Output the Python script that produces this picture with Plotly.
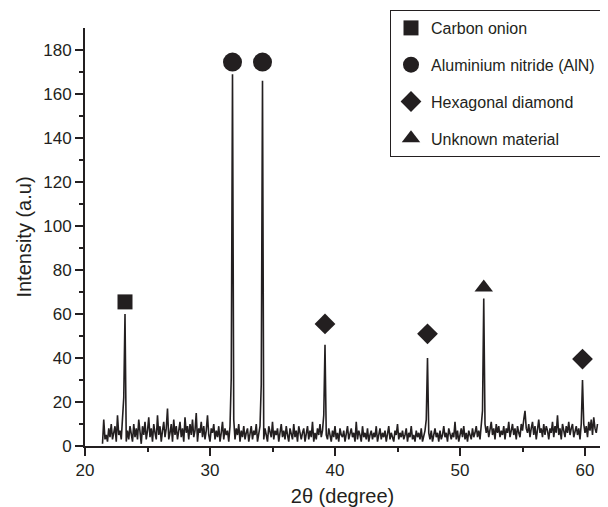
import plotly.graph_objects as go

# Sampling grid of the diffraction scan (degrees 2-theta)
scan_start = 21.4
scan_step = 0.1

# Background intensity (a.u.), one value per step
noise = [
    1, 12, 3, 5, 2, 8, 4, 10, 3, 6, 9, 2, 14, 5, 7, 3, 11, 4, 6, 2,
    7, 3, 9, 5, 2, 10, 4, 8, 3, 12, 6, 1, 9, 5, 11, 3, 7, 13, 4, 8,
    2, 10, 6, 3, 14, 5, 9, 2, 7, 11, 4, 8, 17, 3, 6, 10, 2, 12, 5, 9,
    3, 7, 11, 4, 8, 2, 13, 6, 9, 3, 10, 5, 12, 4, 7, 15, 2, 8, 6, 11,
    4, 9, 3, 7, 14, 5, 2, 8, 6, 10, 3, 7, 4, 9, 2, 6, 11, 3, 8, 5,
    7, 2, 9, 4, 6, 12, 3, 8, 5, 10, 2, 7, 4, 9, 3, 6, 8, 2, 5, 9,
    3, 7, 5, 10, 2, 6, 9, 4, 7, 3, 8, 5, 2, 9, 6, 4, 11, 3, 7, 5,
    8, 2, 6, 10, 4, 7, 3, 9, 5, 2, 8, 6, 3, 10, 4, 7, 2, 9, 5, 3,
    6, 8, 2, 5, 9, 3, 7, 4, 11, 2, 6, 3, 8, 5, 10, 4, 7, 2, 6, 5,
    3, 8, 5, 2, 7, 4, 9, 3, 6, 2, 8, 5, 4, 7, 2, 6, 9, 3, 5, 8,
    4, 6, 2, 11, 3, 7, 5, 2, 9, 4, 6, 3, 8, 2, 5, 7, 3, 6, 4, 9,
    2, 5, 8, 3, 6, 4, 7, 2, 5, 9, 3, 6, 4, 2, 7, 5, 10, 3, 6, 4,
    7, 3, 5, 8, 2, 6, 4, 9, 3, 5, 2, 7, 4, 6, 3, 8, 2, 5, 7, 4,
    5, 6, 3, 7, 2, 5, 8, 4, 6, 2, 7, 3, 5, 9, 4, 6, 2, 8, 5, 3,
    6, 4, 11, 3, 7, 2, 5, 8, 4, 9, 3, 6, 2, 7, 5, 3, 8, 4, 6, 9,
    4, 7, 3, 8, 12, 9, 10, 6, 9, 4, 7, 11, 5, 8, 3, 10, 6, 9, 4, 7,
    5, 9, 3, 8, 6, 11, 4, 7, 10, 5, 8, 3, 9, 6, 4, 10, 7, 12, 16, 8,
    6, 10, 4, 8, 11, 5, 9, 3, 7, 12, 6, 8, 4, 10, 5, 9, 7, 3, 8, 6,
    11, 4, 9, 6, 14, 5, 8, 3, 10, 7, 4, 9, 6, 11, 5, 8, 10, 4, 7, 9,
    5, 8, 3, 12, 6, 10, 6, 9, 4, 11, 7, 12, 5, 13, 8, 6, 10,
]

# Diffraction peaks
peak_2theta = [23.2, 31.8, 34.2, 39.2, 47.4, 51.9, 59.8]
peak_height = [60, 169, 166, 46, 40, 67, 30]
peak_shoulder = [22, 31, 28, 14, 12, 16, 10]

# Phase markers placed above peaks
phase_names = ["Carbon onion", "Aluminium nitride (AlN)", "Hexagonal diamond", "Unknown material"]
phase_symbols = ["square", "circle", "diamond", "triangle-up"]
phase_sizes = [15, 19, 16, 16]
phase_x = [[23.2], [31.8, 34.2], [39.2, 47.4, 59.8], [51.9]]
phase_y = [[65.5], [174.5, 174.5], [55.5, 51.0, 39.5], [72.0]]

two_theta = [round(scan_start + i * scan_step, 2) for i in range(len(noise))]
intensity = list(noise)
for p, h, s in zip(peak_2theta, peak_height, peak_shoulder):
    i = round((p - scan_start) / scan_step)
    intensity[i] = h
    intensity[i - 1] = s

ink = "#231f20"
fig = go.Figure()
fig.add_trace(go.Scatter(x=two_theta, y=intensity, mode="lines",
                         line=dict(color=ink, width=1.6), showlegend=False,
                         hoverinfo="skip"))
for k, name in enumerate(phase_names):
    fig.add_trace(go.Scatter(
        x=phase_x[k], y=phase_y[k], mode="markers", name=name,
        legendgroup=name,
        marker=dict(symbol=phase_symbols[k], size=phase_sizes[k], color=ink,
                    line=dict(width=0)),
    ))

font_family = "Liberation Sans, Arial, sans-serif"
fig.update_layout(
    width=600, height=499,
    margin=dict(l=77, r=8, t=20, b=61, autoexpand=False),
    paper_bgcolor="white", plot_bgcolor="white",
    font=dict(family=font_family, size=17, color=ink),
    legend=dict(
        x=(382 - 77) / 515, y=(438 - 2) / 418, xanchor="left", yanchor="top",
        bgcolor="white", bordercolor=ink, borderwidth=1,
        font=dict(size=16, color=ink), traceorder="grouped", tracegroupgap=13,
        itemsizing="trace",
    ),
    xaxis=dict(
        range=[20, 61.2], showgrid=False, zeroline=False,
        showline=True, linecolor=ink, linewidth=2,
        ticks="outside", ticklen=8, tickwidth=2, tickcolor=ink,
        tickmode="array", tickvals=[20, 30, 40, 50, 60],
        minor=dict(tickvals=[25, 35, 45, 55], ticks="outside", ticklen=4,
                   tickwidth=2, tickcolor=ink),
        title=dict(text="2θ (degree)", font=dict(size=20), standoff=10),
    ),
    yaxis=dict(
        range=[0, 190], showgrid=False, zeroline=False,
        showline=True, linecolor=ink, linewidth=2,
        ticks="outside", ticklen=8, tickwidth=2, tickcolor=ink,
        tickmode="array", tickvals=[0, 20, 40, 60, 80, 100, 120, 140, 160, 180],
        minor=dict(tickvals=[10, 30, 50, 70, 90, 110, 130, 150, 170], ticks="outside",
                   ticklen=4, tickwidth=2, tickcolor=ink),
        title=dict(text="Intensity (a.u)", font=dict(size=20), standoff=6),
    ),
)

fig.write_html("out.html")
